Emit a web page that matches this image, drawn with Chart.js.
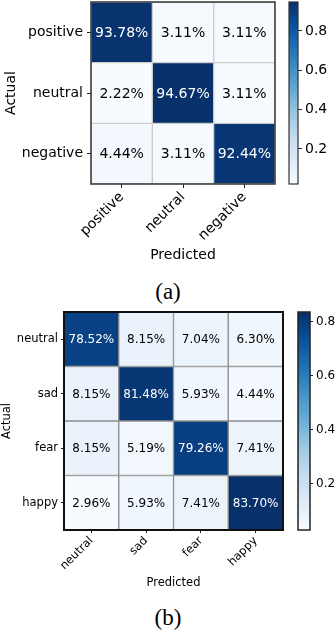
<!DOCTYPE html>
<html>
<head>
<meta charset="utf-8">
<script src="https://cdn.jsdelivr.net/npm/chart.js@4.4.1/dist/chart.umd.min.js"></script>
<style>
  body { margin: 0; background: #fff; width: 336px; height: 632px; position: relative; overflow: hidden; }
  canvas { position: absolute; }
  .cap { position: absolute; left: 0; width: 336px; text-align: center; font-family: 'Liberation Serif', serif; font-size: 23px; line-height: 24px; color: #000; }
</style>
</head>
<body>
<canvas id="matA" width="285" height="264" style="left:0;top:0"></canvas>
<canvas id="barA" width="51" height="190" style="left:285px;top:0"></canvas>
<div class="cap" style="top:280px">(a)</div>
<canvas id="matB" width="293" height="290" style="left:0;top:300px"></canvas>
<canvas id="barB" width="43" height="240" style="left:293px;top:300px"></canvas>
<div class="cap" style="top:606px">(b)</div>
<script>
// (a) sentiment
const labelsA = ['positive', 'neutral', 'negative'];
const valuesA = [
  [93.78, 3.11, 3.11],
  [2.22, 94.67, 3.11],
  [4.44, 3.11, 92.44]
];
const cbTicksA = [0.2, 0.4, 0.6, 0.8];

// (b) emotion
const labelsB = ['neutral', 'sad', 'fear', 'happy'];
const valuesB = [
  [78.52, 8.15, 7.04, 6.30],
  [8.15, 81.48, 5.93, 4.44],
  [8.15, 5.19, 79.26, 7.41],
  [2.96, 5.93, 7.41, 83.70]
];
const cbTicksB = [0.2, 0.4, 0.6, 0.8];

// matplotlib "Blues"
const bluesStops = ['#f7fbff', '#deebf7', '#c6dbef', '#9ecae1', '#6baed6', '#4292c6', '#2171b5', '#08519c', '#08306b'];

Chart.defaults.font.family = "'DejaVu Sans', sans-serif";
Chart.defaults.color = '#000';

function hex(c) { return [1, 3, 5].map(k => parseInt(c.substr(k, 2), 16)); }
function blues(t) {
  t = Math.max(0, Math.min(1, t));
  const p = t * (bluesStops.length - 1);
  const i = Math.min(Math.floor(p), bluesStops.length - 2);
  const f = p - i;
  const a = hex(bluesStops[i]), b = hex(bluesStops[i + 1]);
  const m = a.map((v, k) => Math.round(v + (b[k] - v) * f));
  return `rgb(${m[0]},${m[1]},${m[2]})`;
}

// no extra room for half-labels at the ends of the axes
function noPad(s) {
  s.paddingTop = 0; s.paddingBottom = 0; s.paddingLeft = 0; s.paddingRight = 0;
}

function framePlugin(color, width) {
  return {
    id: 'frame',
    afterDraw(chart) {
      const { ctx, chartArea: a } = chart;
      ctx.save();
      ctx.strokeStyle = color;
      ctx.lineWidth = width;
      ctx.strokeRect(a.left, a.top, a.right - a.left, a.bottom - a.top);
      ctx.restore();
    }
  };
}

function makeMatrix(id, labels, values, st) {
  const flat = values.flat();
  const lo = Math.min(...flat), hi = Math.max(...flat);
  const norm = v => (v - lo) / (hi - lo);

  const datasets = values.map((row, i) => ({
    data: row.map(() => [i - 0.5, i + 0.5]),
    backgroundColor: row.map(v => blues(norm(v))),
    borderColor: st.grid,
    borderWidth: 1,
    borderSkipped: false,
    grouped: false,
    categoryPercentage: 1,
    barPercentage: 1
  }));

  const cellText = {
    id: 'cellText',
    afterDatasetsDraw(chart) {
      const ctx = chart.ctx;
      ctx.save();
      ctx.font = `${st.cellFont}px 'DejaVu Sans', sans-serif`;
      ctx.textAlign = 'center';
      ctx.textBaseline = 'middle';
      chart.data.datasets.forEach((ds, i) => {
        chart.getDatasetMeta(i).data.forEach((el, j) => {
          const v = values[i][j];
          ctx.fillStyle = norm(v) > 0.5 ? '#fff' : '#000';
          ctx.fillText(v.toFixed(2) + '%', el.x, (el.y + el.base) / 2 + 1);
        });
      });
      ctx.restore();
    }
  };

  new Chart(document.getElementById(id), {
    type: 'bar',
    data: { labels: labels, datasets: datasets },
    options: {
      responsive: false,
      animation: false,
      devicePixelRatio: 1,
      events: [],
      layout: { padding: { top: st.top, right: st.right, left: 0, bottom: 0 } },
      plugins: { legend: { display: false }, tooltip: { enabled: false } },
      scales: {
        x: {
          offset: true,
          grid: { offset: false, drawOnChartArea: false, tickLength: st.tick, color: '#222' },
          border: { display: false },
          ticks: { minRotation: 45, maxRotation: 45, autoSkip: false, padding: 1, font: { size: st.font }, color: '#000' },
          title: { display: true, text: 'Predicted', font: { size: st.font }, color: '#000', padding: 0 },
          afterFit: s => { s.height = st.xH; noPad(s); }
        },
        y: {
          type: 'linear',
          min: -0.5,
          max: labels.length - 0.5,
          reverse: true,
          afterBuildTicks: s => { s.ticks = labels.map((_, k) => ({ value: k })); },
          grid: { drawOnChartArea: false, tickLength: st.tick, color: '#222' },
          border: { display: false },
          ticks: { padding: st.tickPad, font: { size: st.font }, color: '#000', callback: v => labels[v] },
          title: { display: true, text: 'Actual', font: { size: st.font }, color: '#000', padding: { top: st.yTitlePad, bottom: 0 } },
          afterFit: s => { s.width = st.yW; noPad(s); }
        }
      }
    },
    plugins: [cellText, framePlugin(st.frame, st.frameW)]
  });
}

function makeColorbar(id, values, ticks, st) {
  const flat = values.flat();
  const lo = Math.min(...flat) / 100, hi = Math.max(...flat) / 100;

  new Chart(document.getElementById(id), {
    type: 'bar',
    data: {
      labels: [''],
      datasets: [{
        data: [[lo, hi]],
        backgroundColor: c => {
          const a = c.chart.chartArea;
          if (!a) return bluesStops[0];
          const g = c.chart.ctx.createLinearGradient(0, a.bottom, 0, a.top);
          bluesStops.forEach((col, k) => g.addColorStop(k / (bluesStops.length - 1), col));
          return g;
        },
        borderWidth: 0,
        categoryPercentage: 1,
        barPercentage: 1
      }]
    },
    options: {
      responsive: false,
      animation: false,
      devicePixelRatio: 1,
      events: [],
      layout: { padding: st.pad },
      plugins: { legend: { display: false }, tooltip: { enabled: false } },
      scales: {
        x: { display: false },
        y: {
          position: 'right',
          min: lo,
          max: hi,
          afterBuildTicks: s => { s.ticks = ticks.map(v => ({ value: v })); },
          grid: { drawOnChartArea: false, tickLength: st.tick, color: '#222' },
          border: { display: false },
          ticks: { padding: 3, font: { size: st.font }, color: '#000', callback: v => v.toFixed(1) },
          afterFit: s => { s.width = st.axisW; noPad(s); }
        }
      }
    },
    plugins: [framePlugin(st.frame, st.frameW)]
  });
}

makeMatrix('matA', labelsA, valuesA, {
  top: 2, right: 10, yW: 91, xH: 80, font: 14, cellFont: 14, tick: 4, tickPad: 4, yTitlePad: 3,
  grid: '#cccccc', frame: '#333', frameW: 1.5
});
makeColorbar('barA', valuesA, cbTicksA, {
  pad: { left: 4, top: 2, bottom: 6, right: 0 }, axisW: 38, font: 14, tick: 4, frame: '#333', frameW: 1.2
});

makeMatrix('matB', labelsB, valuesB, {
  top: 12, right: 10, yW: 64, xH: 60, font: 11.5, cellFont: 12, tick: 3, tickPad: 3, yTitlePad: 0,
  grid: '#8c8c8c', frame: '#111', frameW: 2
});
makeColorbar('barB', valuesB, cbTicksB, {
  pad: { left: 5, top: 12, bottom: 10, right: 0 }, axisW: 26, font: 12, tick: 3, frame: '#222', frameW: 1.5
});
</script>
</body>
</html>
